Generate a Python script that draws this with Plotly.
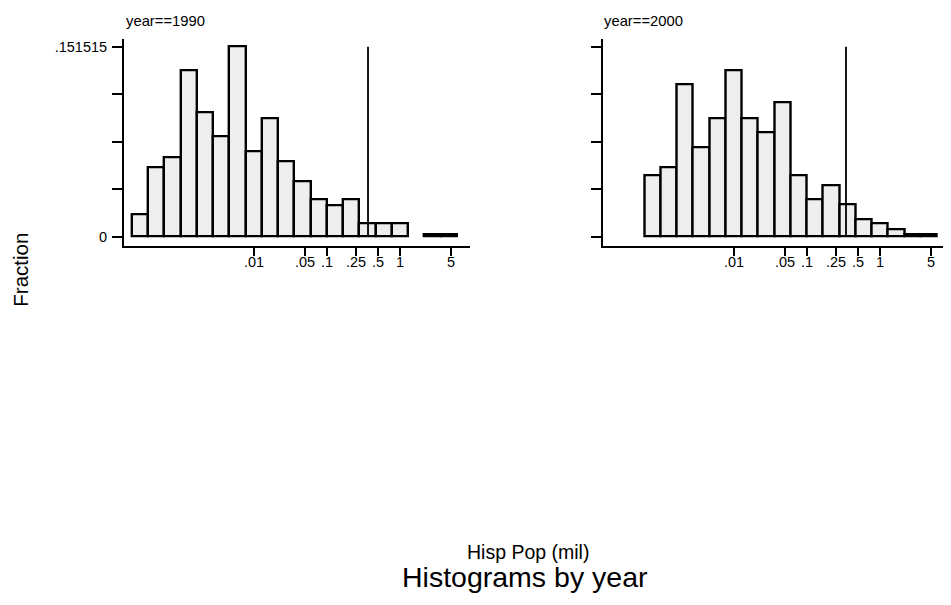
import plotly.graph_objects as go

# ---- data (x in log10 of Hisp Pop (mil)) ----
bin_start_log10 = -3.672      # left edge of first histogram bin
bin_width_log10 = 0.2225      # width of each bin
frac_1990 = [0.0178, 0.0556, 0.0636, 0.1323, 0.0991, 0.0796, 0.1515, 0.0684,
             0.0943, 0.0604, 0.0444, 0.0298, 0.0253, 0.0298, 0.0106, 0.0106,
             0.0106, None, 0.0018, 0.0018]
frac_2000 = [None, None, 0.0490, 0.0556, 0.1215, 0.0716, 0.0940, 0.1323,
             0.0940, 0.0828, 0.1068, 0.0490, 0.0300, 0.0412, 0.0256, 0.0141,
             0.0109, 0.0061, 0.0020, 0.0020]
ref_line_log10 = {"1990": -0.438, "2000": -0.466}
y_max = 0.151515
x_tick_vals = [-2, -1.30103, -1, -0.60206, -0.30103, 0, 0.69897]
x_tick_text = [".01", ".05", ".1", ".25", ".5", "1", "5"]
y_tick_vals = [0, y_max / 4, y_max / 2, 3 * y_max / 4, y_max]
y_tick_text = ["0", "", "", "", ".151515"]
years = ["1990", "2000"]
panel_data = {"1990": frac_1990, "2000": frac_2000}

W, H = 951, 605
OFF = 8  # page body margin
FONT = "Liberation Sans, Arial, sans-serif"


def px(x):
    return (x - OFF) / W


def py(y):
    return 1 - (y - OFF) / H


fig = go.Figure()
centers = [bin_start_log10 + (i + 0.5) * bin_width_log10 for i in range(len(frac_1990))]

for k, yr in enumerate(years):
    xa = "x" if k == 0 else "x2"
    ya = "y" if k == 0 else "y2"
    fig.add_trace(go.Bar(
        x=centers, y=panel_data[yr], width=bin_width_log10,
        marker=dict(color="#eeeeee", line=dict(color="black", width=2.4)),
        xaxis=xa, yaxis=ya, showlegend=False))
    fig.add_trace(go.Scatter(
        x=[ref_line_log10[yr], ref_line_log10[yr]], y=[0, y_max],
        mode="lines", line=dict(color="black", width=1.8),
        xaxis=xa, yaxis=ya, showlegend=False))

ydom = [py(245.7), py(39.3)]
yrange = [-0.007344, 0.157422]
common_x = dict(showline=True, linecolor="black", linewidth=2, ticks="outside",
                ticklen=8, tickwidth=2, tickcolor="black", tickvals=x_tick_vals,
                ticktext=x_tick_text, showgrid=False, zeroline=False,
                ticklabelstandoff=-6,
                tickfont=dict(family=FONT, size=14.5, color="black"), automargin=False)
common_y = dict(showline=True, linecolor="black", linewidth=2, ticks="outside",
                ticklen=10, tickwidth=2, tickcolor="black", tickvals=y_tick_vals,
                ticktext=y_tick_text, showgrid=False, zeroline=False, range=yrange,
                domain=ydom, ticklabelstandoff=2,
                tickfont=dict(family=FONT, size=14.5, color="black"),
                automargin=False)

fig.update_layout(
    width=W, height=H, margin=dict(l=0, r=0, t=0, b=0),
    paper_bgcolor="white", plot_bgcolor="white",
    xaxis=dict(common_x, domain=[px(124), px(470)], range=[-3.781, 0.959], anchor="y"),
    yaxis=dict(common_y, anchor="x"),
    xaxis2=dict(common_x, domain=[px(602.7), px(950)], range=[-3.799, 0.959], anchor="y2"),
    yaxis2=dict(common_y, anchor="x2", showticklabels=False),
    bargap=0,
)

ann = [
    dict(text="year==1990", x=px(124), y=py(21.4), xanchor="left", yanchor="middle",
         font=dict(family=FONT, size=14.8)),
    dict(text="year==2000", x=px(601.7), y=py(21.4), xanchor="left", yanchor="middle",
         font=dict(family=FONT, size=14.8)),
    dict(text="Fraction", x=px(19.7), y=py(270), xanchor="center", yanchor="middle",
         textangle=-90, font=dict(family=FONT, size=20.5)),
    dict(text="Hisp Pop (mil)", x=px(528), y=py(552.4), xanchor="center", yanchor="middle",
         font=dict(family=FONT, size=19.5)),
    dict(text="Histograms by year", x=px(524.5), y=py(576.5), xanchor="center",
         yanchor="middle", font=dict(family=FONT, size=28.5)),
]
for a in ann:
    a.update(xref="paper", yref="paper", showarrow=False)
    a["font"]["color"] = "black"
fig.update_layout(annotations=ann)

fig.write_html("out.html")
